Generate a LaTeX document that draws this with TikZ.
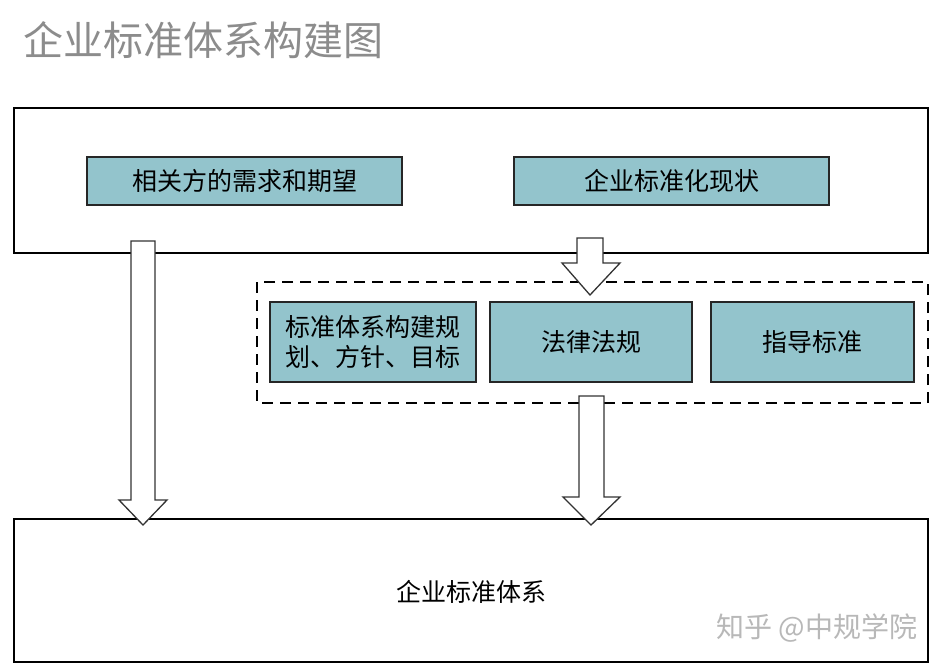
\documentclass[tikz,border=0pt]{standalone}
\usepackage{fontspec}
\newfontfamily\cjk{Noto Sans CJK SC}
\begin{document}
\begin{tikzpicture}[x=1pt,y=-1pt,
  frame/.style={draw=black,line width=1.4pt},
  tbox/.style={draw=black!85,line width=1.4pt,fill=boxfill,font=\cjk\fontsize{25}{30}\selectfont,align=center,inner sep=0pt},
  harrow/.style={draw=black!80,line width=1.3pt,fill=white,line join=miter}]
\definecolor{boxfill}{HTML}{93C4CC}
\useasboundingbox (0,0) rectangle (944,665);
\fill[white] (0,0) rectangle (944,665);
\node[anchor=west,text=black!45,font=\cjk\fontsize{40}{46}\selectfont] (title) at (20,40) {企业标准体系构建图};
\draw[frame] (14,108) rectangle (928,253);
\draw[frame] (14,519) rectangle (928,662);
\draw[line width=1.4pt,dash pattern=on 11pt off 7pt] (257,282) rectangle (928,403);
\node[tbox,minimum width=315pt,minimum height=48pt] (a) at (244.5,181) {相关方的需求和期望};
\node[tbox,minimum width=315pt,minimum height=48pt] (b) at (671.5,181) {企业标准化现状};
\node[tbox,minimum width=206pt,minimum height=80pt] (c) at (373,342) {标准体系构建规\\划、方针、目标};
\node[tbox,minimum width=202pt,minimum height=80pt] (d) at (591,342) {法律法规};
\node[tbox,minimum width=203pt,minimum height=80pt] (e) at (812.5,342) {指导标准};
\node[font=\cjk\fontsize{25}{30}\selectfont] (f) at (471,592) {企业标准体系};
\node[anchor=east,text=black!28,font=\cjk\fontsize{28}{33}\selectfont] (wm) at (921,628) {知乎 @中规学院};
\draw[harrow] (131,241) -- (155,241) -- (155,500) -- (167,500) -- (143,525) -- (119,500) -- (131,500) -- cycle;
\draw[harrow] (577,238) -- (603,238) -- (603,263) -- (620,263) -- (590,295) -- (562,263) -- (577,263) -- cycle;
\draw[harrow] (579,396) -- (604,396) -- (604,497) -- (620,497) -- (591,525) -- (563,497) -- (579,497) -- cycle;
\end{tikzpicture}
\end{document}
